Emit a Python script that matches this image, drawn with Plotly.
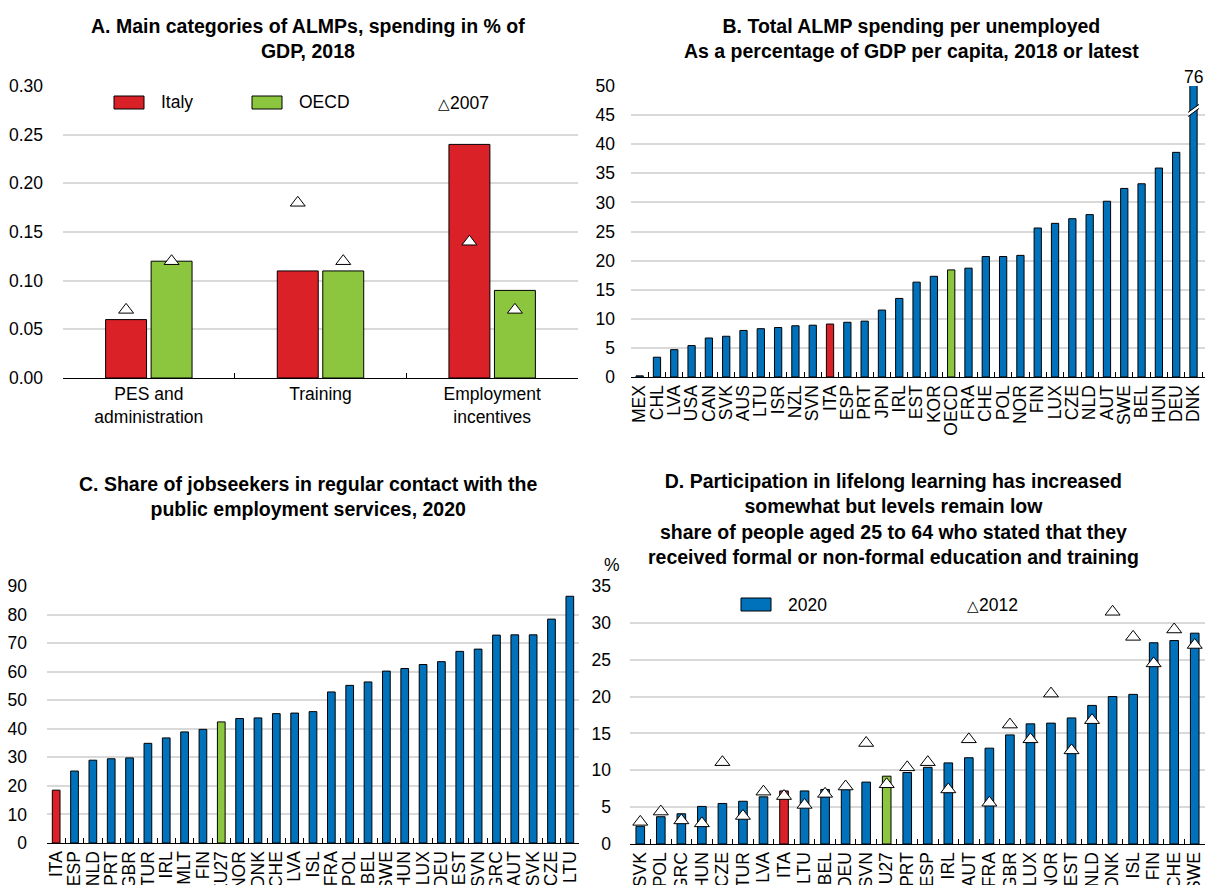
import plotly.graph_objects as go

# ---------------- data ----------------
a_categories = ["PES and<br>administration", "Training", "Employment<br>incentives"]
a_italy_2018 = [0.06, 0.11, 0.24]
a_oecd_2018 = [0.12, 0.11, 0.09]
a_italy_2007 = [0.07, 0.18, 0.14]
a_oecd_2007 = [0.12, 0.12, 0.07]

b_countries = ["MEX", "CHL", "LVA", "USA", "CAN", "SVK", "AUS", "LTU", "ISR", "NZL", "SVN",
               "ITA", "ESP", "PRT", "JPN", "IRL", "EST", "KOR", "OECD", "FRA", "CHE", "POL",
               "NOR", "FIN", "LUX", "CZE", "NLD", "AUT", "SWE", "BEL", "HUN", "DEU", "DNK"]
b_values = [0.2, 3.4, 4.7, 5.4, 6.7, 7.0, 8.0, 8.3, 8.5, 8.8, 8.9,
            9.1, 9.4, 9.6, 11.5, 13.5, 16.3, 17.3, 18.4, 18.7, 20.7, 20.7,
            20.9, 25.6, 26.4, 27.2, 27.9, 30.2, 32.4, 33.2, 35.9, 38.6, 76]

c_countries = ["ITA", "ESP", "NLD", "PRT", "GBR", "TUR", "IRL", "MLT", "FIN", "EU27", "NOR",
               "DNK", "CHE", "LVA", "ISL", "FRA", "POL", "BEL", "SWE", "HUN", "LUX", "DEU",
               "EST", "SVN", "GRC", "AUT", "SVK", "CZE", "LTU"]
c_values = [18.5, 25.2, 29.0, 29.5, 29.8, 34.9, 36.8, 38.9, 39.8, 42.4, 43.6,
            43.8, 45.3, 45.5, 46.0, 52.9, 55.2, 56.4, 60.2, 61.1, 62.5, 63.5,
            67.1, 67.9, 72.8, 72.9, 72.9, 78.4, 86.4]

d_countries = ["SVK", "POL", "GRC", "HUN", "CZE", "TUR", "LVA", "ITA", "LTU", "BEL", "DEU",
               "SVN", "EU27", "PRT", "ESP", "IRL", "AUT", "FRA", "GBR", "LUX", "NOR", "EST",
               "NLD", "DNK", "ISL", "FIN", "CHE", "SWE"]
d_2020 = [2.4, 3.7, 4.1, 5.1, 5.5, 5.8, 6.4, 7.2, 7.2, 7.4, 7.5,
          8.4, 9.2, 9.7, 10.4, 11.0, 11.7, 13.0, 14.8, 16.3, 16.4, 17.1,
          18.8, 20.0, 20.3, 27.3, 27.6, 28.6]
d_2012 = [3.0, 4.4, 3.2, 2.8, 11.1, 3.8, 7.1, 6.5, 5.3, 6.8, 7.8,
          13.7, 8.1, 10.4, 11.1, 7.4, 14.2, 5.6, 16.2, 14.2, 20.4, 12.7,
          16.8, 31.5, 28.1, 24.5, 29.1, 27.0]

# ---------------- style ----------------
FONT = "Liberation Sans, Arial, sans-serif"
RED = "#DA2128"
GREEN = "#8CC63F"
BLUE = "#0072BC"
GRID = "#D9D9D9"
TICK = 17.5
TITLE = 19.5
BW = 0.42  # single-series bar width


def colours(cats):
    out = []
    for c in cats:
        if c == "ITA":
            out.append(RED)
        elif c in ("OECD", "EU27"):
            out.append(GREEN)
        else:
            out.append(BLUE)
    return out


tri = dict(symbol="triangle-up", size=13, color="white", line=dict(color="black", width=1))
edge = dict(color="black", width=1)

fig = go.Figure()

# Panel A
fig.add_trace(go.Bar(x=a_categories, y=a_italy_2018, name="Italy", offsetgroup="ita",
                     marker=dict(color=RED, line=edge), xaxis="x", yaxis="y", showlegend=False))
fig.add_trace(go.Bar(x=a_categories, y=a_oecd_2018, name="OECD", offsetgroup="oecd",
                     marker=dict(color=GREEN, line=edge), xaxis="x", yaxis="y", showlegend=False))
fig.add_trace(go.Scatter(x=a_categories, y=a_italy_2007, mode="markers", offsetgroup="ita",
                         marker=tri, xaxis="x", yaxis="y", showlegend=False))
fig.add_trace(go.Scatter(x=a_categories, y=a_oecd_2007, mode="markers", offsetgroup="oecd",
                         marker=tri, xaxis="x", yaxis="y", showlegend=False))

# Panel B
fig.add_trace(go.Bar(x=b_countries, y=b_values, width=BW, offset=-BW / 2,
                     marker=dict(color=colours(b_countries), line=edge),
                     xaxis="x2", yaxis="y2", showlegend=False))

# Panel C
fig.add_trace(go.Bar(x=c_countries, y=c_values, width=BW, offset=-BW / 2,
                     marker=dict(color=colours(c_countries), line=edge),
                     xaxis="x3", yaxis="y3", showlegend=False))

# Panel D
fig.add_trace(go.Bar(x=d_countries, y=d_2020, width=BW, offset=-BW / 2,
                     marker=dict(color=colours(d_countries), line=edge),
                     xaxis="x4", yaxis="y4", showlegend=False))
fig.add_trace(go.Scatter(x=d_countries, y=d_2012, mode="markers", marker=tri,
                         xaxis="x4", yaxis="y4", showlegend=False))

W, H = 1207, 885


def px_x(p):
    return p / W


def px_y(p):
    return 1 - p / H


def xax(dom, anchor, angle=0):
    return dict(domain=dom, anchor=anchor, type="category", showline=True, linecolor="black",
                linewidth=1.3, ticks="inside", tickson="boundaries", ticklen=5,
                tickcolor="black", tickwidth=1.3, showgrid=False, tickangle=angle,
                tickmode="linear", dtick=1, automargin=False,
                tickfont=dict(size=TICK, color="black"), fixedrange=True)


def yax(dom, anchor, rng, dtick, fmt, standoff):
    return dict(domain=dom, anchor=anchor, range=rng, dtick=dtick, tickformat=fmt,
                showgrid=True, gridcolor=GRID, gridwidth=1.5, zeroline=False,
                showline=False, ticks="", ticklabelstandoff=standoff, automargin=False,
                tickfont=dict(size=TICK, color="black"), fixedrange=True)


B_YMAX = 50

layout = dict(
    width=W, height=H, margin=dict(l=0, r=0, t=0, b=0, autoexpand=False),
    template="none",
    paper_bgcolor="white", plot_bgcolor="white",
    font=dict(family=FONT, size=TICK, color="black"),
    barmode="group", bargap=0.47, bargroupgap=0.1, scattermode="group",
    showlegend=False,
    xaxis=xax([px_x(63), px_x(578)], "y"),
    yaxis=yax([px_y(378), px_y(86)], "x", [0, 0.30], 0.05, ".2f", 19),
    xaxis2=xax([px_x(631), px_x(1205)], "y2", -90),
    yaxis2=yax([px_y(377), px_y(86)], "x2", [0, B_YMAX], 5, "d", 15),
    xaxis3=xax([px_x(47), px_x(579)], "y3", -90),
    yaxis3=yax([px_y(843), px_y(586)], "x3", [0, 90], 10, "d", 19),
    xaxis4=xax([px_x(630), px_x(1205)], "y4", -90),
    yaxis4=yax([px_y(844), px_y(586)], "x4", [0, 35], 5, "d", 18),
)
fig.update_layout(**layout)

ann = []
ann.append(dict(text="<b>A. Main categories of ALMPs, spending in % of<br>GDP, 2018</b>",
                x=px_x(308), y=px_y(38), xref="paper", yref="paper", showarrow=False,
                xanchor="center", yanchor="middle", font=dict(family=FONT, size=TITLE, color="black")))
ann.append(dict(text="<b>B. Total ALMP spending per unemployed<br>As a percentage of GDP per capita, 2018 or latest</b>",
                x=px_x(911), y=px_y(38), xref="paper", yref="paper", showarrow=False,
                xanchor="center", yanchor="middle", font=dict(family=FONT, size=TITLE, color="black")))
ann.append(dict(text="<b>C. Share of jobseekers in regular contact with the<br>public employment services, 2020</b>",
                x=px_x(308), y=px_y(497), xref="paper", yref="paper", showarrow=False,
                xanchor="center", yanchor="middle", font=dict(family=FONT, size=TITLE, color="black")))
ann.append(dict(text="<b>D. Participation in lifelong learning has increased<br>somewhat but levels remain low<br>"
                     "share of people aged 25 to 64 who stated that they<br>received formal or non-formal education and training</b>",
                x=px_x(893), y=px_y(519), xref="paper", yref="paper", showarrow=False,
                xanchor="center", yanchor="middle", font=dict(family=FONT, size=TITLE, color="black")))
ann.append(dict(text="%", x=px_x(612), y=px_y(565), xref="paper", yref="paper", showarrow=False,
                xanchor="center", yanchor="middle", font=dict(family=FONT, size=TICK, color="black")))
# value label for truncated bar
ann.append(dict(text=f"{b_values[-1]:g}", x=b_countries[-1], y=B_YMAX, xref="x2", yref="y2",
                showarrow=False, xanchor="center", yanchor="bottom", yshift=-3,
                font=dict(family=FONT, size=TICK, color="black")))

# legends (custom)
shapes = []


def legend_box(x0, y0, colour, label):
    shapes.append(dict(type="rect", xref="paper", yref="paper", x0=px_x(x0), x1=px_x(x0 + 30),
                       y0=px_y(y0 + 13), y1=px_y(y0), fillcolor=colour,
                       line=dict(color="black", width=1)))
    ann.append(dict(text=label, x=px_x(x0 + 45), y=px_y(y0 + 6.5), xref="paper", yref="paper",
                    showarrow=False, xanchor="left", yanchor="middle",
                    font=dict(family=FONT, size=TICK, color="black")))


def legend_tri(x0, yc, label):
    ann.append(dict(text="<span style='font-size:15px'>△</span>" + label, x=px_x(x0), y=px_y(yc),
                    xref="paper", yref="paper", showarrow=False, xanchor="left", yanchor="middle",
                    font=dict(family=FONT, size=TICK, color="black")))


legend_box(114, 96, RED, "Italy")
legend_box(252, 96, GREEN, "OECD")
legend_tri(436, 103, "2007")
legend_box(741, 598, BLUE, "2020")
legend_tri(965, 605, "2012")

# axis break mark on the truncated bar
bi = len(b_countries) - 1
bc = 45.8
shapes.append(dict(type="line", xref="x2", yref="y2", x0=bi - 0.32, x1=bi + 0.32,
                   y0=bc - 0.7, y1=bc + 0.7, line=dict(color="white", width=3)))
for off in (-0.35, 0.35):
    shapes.append(dict(type="line", xref="x2", yref="y2", x0=bi - 0.32, x1=bi + 0.32,
                       y0=bc - 0.7 + off, y1=bc + 0.7 + off, line=dict(color="black", width=1)))

fig.update_layout(annotations=ann, shapes=shapes)

fig.write_html("out.html", config={"displayModeBar": False},
               post_script="document.body.style.margin='0';document.body.style.overflow='hidden';")
